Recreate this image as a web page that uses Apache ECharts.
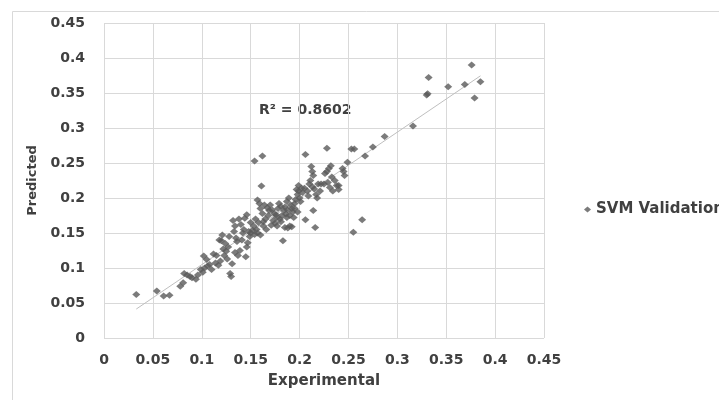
<!DOCTYPE html>
<html>
<head>
<meta charset="utf-8">
<script src="https://cdn.jsdelivr.net/npm/echarts@6/dist/echarts.min.js"></script>
<style>
html,body{margin:0;padding:0;background:#fff;}
#chart{width:719px;height:400px;}
</style>
</head>
<body>
<div id="chart"></div>
<script>
// Tick values for both axes
var tickValues = [0, 0.05, 0.1, 0.15, 0.2, 0.25, 0.3, 0.35, 0.4, 0.45];

// Experimental (x) values
var experimental = [
0.033,0.054,0.061,0.067,0.078,0.081,0.082,0.085,0.088,0.090,
0.094,0.096,0.099,0.101,0.103,0.102,0.105,0.108,0.110,0.112,
0.114,0.117,0.119,0.118,0.121,0.123,0.125,0.122,0.127,0.126,
0.129,0.130,0.131,0.120,0.124,0.132,0.134,0.133,0.135,0.136,
0.134,0.137,0.139,0.138,0.140,0.142,0.141,0.145,0.146,0.147,
0.144,0.146,0.148,0.150,0.152,0.154,0.156,0.153,0.155,0.158,
0.154,0.162,0.161,0.157,0.159,0.160,0.162,0.160,0.163,0.165,
0.166,0.167,0.170,0.172,0.168,0.173,0.175,0.171,0.176,0.178,
0.179,0.181,0.180,0.183,0.184,0.186,0.185,0.188,0.190,0.192,
0.187,0.189,0.191,0.193,0.190,0.194,0.195,0.196,0.198,0.197,
0.199,0.200,0.201,0.203,0.205,0.206,0.206,0.208,0.210,0.211,
0.212,0.213,0.214,0.215,0.214,0.216,0.217,0.218,0.219,0.221,
0.228,0.226,0.228,0.230,0.232,0.225,0.229,0.231,0.234,0.236,
0.238,0.240,0.245,0.246,0.244,0.249,0.253,0.256,0.255,0.264,
0.267,0.275,0.287,0.316,0.330,0.331,0.332,0.352,0.369,0.376,
0.379,0.385,0.164,0.169,0.174,0.177,0.182,0.185,0.188,0.192,
0.195,0.198,0.199,0.202,0.150,0.143,0.149,0.157,0.163,0.177,
0.181,0.128,0.115,0.106,0.209,0.213,0.222,0.233,0.240,0.187
];

// Predicted (y) values
var predicted = [
0.062,0.067,0.060,0.061,0.074,0.079,0.092,0.090,0.088,0.086,
0.084,0.090,0.098,0.094,0.100,0.117,0.112,0.105,0.098,0.120,
0.107,0.104,0.110,0.140,0.147,0.118,0.124,0.127,0.130,0.113,
0.092,0.088,0.106,0.139,0.135,0.168,0.160,0.152,0.143,0.138,
0.122,0.118,0.125,0.170,0.162,0.150,0.140,0.116,0.130,0.136,
0.171,0.176,0.152,0.150,0.154,0.148,0.155,0.160,0.170,0.165,
0.253,0.260,0.217,0.197,0.192,0.185,0.178,0.147,0.160,0.170,
0.155,0.186,0.190,0.183,0.175,0.168,0.164,0.161,0.176,0.185,
0.192,0.188,0.170,0.139,0.182,0.177,0.158,0.157,0.160,0.159,
0.195,0.200,0.190,0.180,0.175,0.172,0.185,0.198,0.205,0.212,
0.218,0.200,0.195,0.208,0.214,0.262,0.169,0.210,0.220,0.225,
0.245,0.238,0.232,0.213,0.182,0.158,0.205,0.200,0.220,0.210,
0.271,0.235,0.238,0.242,0.246,0.220,0.222,0.215,0.210,0.225,
0.218,0.212,0.238,0.232,0.242,0.251,0.270,0.270,0.151,0.169,
0.260,0.273,0.288,0.303,0.347,0.349,0.372,0.359,0.362,0.390,
0.343,0.366,0.190,0.182,0.178,0.172,0.175,0.187,0.183,0.185,
0.192,0.180,0.210,0.214,0.165,0.155,0.145,0.150,0.166,0.160,
0.166,0.145,0.118,0.103,0.203,0.216,0.220,0.230,0.218,0.172
];

var seriesName = 'SVM Validation';
var r2Label = 'R² = 0.8602';

// Build scatter data
var points = experimental.map(function (x, i) { return [x, predicted[i]]; });

// Linear least-squares trendline (as Excel does)
var n = points.length, sx = 0, sy = 0, sxx = 0, sxy = 0;
points.forEach(function (p) { sx += p[0]; sy += p[1]; sxx += p[0]*p[0]; sxy += p[0]*p[1]; });
var slope = (n*sxy - sx*sy) / (n*sxx - sx*sx);
var intercept = (sy - slope*sx) / n;
var xMin = Math.min.apply(null, experimental), xMax = Math.max.apply(null, experimental);
var trend = [[xMin, intercept + slope*xMin], [xMax, intercept + slope*xMax]];

var fontFam = '"DejaVu Sans", sans-serif';
var labelColor = '#404040';

function axisCommon(name, nameSize) {
  return {
    type: 'value',
    min: 0, max: 0.45, interval: 0.05,
    name: name,
    nameLocation: 'middle',
    nameTextStyle: { fontFamily: fontFam, fontWeight: 'bold', fontSize: nameSize, color: labelColor },
    axisLine: { show: false },
    axisTick: { show: false },
    splitLine: { show: true, lineStyle: { color: '#d9d9d9', width: 1 } },
    axisLabel: {
      fontFamily: fontFam, fontWeight: 'bold', fontSize: 14, color: labelColor,
      formatter: function (v) { return String(+v.toFixed(2)); }
    }
  };
}

var xAxis = axisCommon('Experimental', 15);
xAxis.nameGap = 36;
xAxis.axisLabel.margin = 15;
var yAxis = axisCommon('Predicted', 13);
yAxis.nameGap = 60;
yAxis.axisLabel.margin = 19;

var chart = echarts.init(document.getElementById('chart'), null, { renderer: 'canvas' });
chart.setOption({
  animation: false,
  backgroundColor: '#ffffff',
  grid: { left: 104, right: 175, top: 23, bottom: 62, containLabel: false },
  xAxis: xAxis,
  yAxis: yAxis,
  legend: {
    data: [{ name: seriesName, icon: 'diamond' }],
    left: 579, top: 197,
    itemWidth: 7, itemHeight: 6, itemGap: 6,
    textStyle: { fontFamily: fontFam, fontWeight: 'bold', fontSize: 15, color: labelColor }
  },
  graphic: [
    { type: 'rect', left: 10, top: 9, shape: { width: 720, height: 390 }, style: { fill: 'none', stroke: '#d9d9d9', lineWidth: 1 }, silent: true },
    { type: 'text', left: 259, top: 103, style: { text: r2Label, font: 'bold 14px "DejaVu Sans", sans-serif', fill: labelColor } }
  ],
  series: [
    {
      name: 'trend', type: 'line', data: trend, symbol: 'none',
      lineStyle: { color: '#bfbfbf', width: 1 }, silent: true, z: 1
    },
    {
      name: seriesName, type: 'scatter', data: points,
      symbol: 'diamond', symbolSize: [8, 7],
      itemStyle: { color: '#5a5a5a' }, z: 2
    }
  ]
});
</script>
</body>
</html>
